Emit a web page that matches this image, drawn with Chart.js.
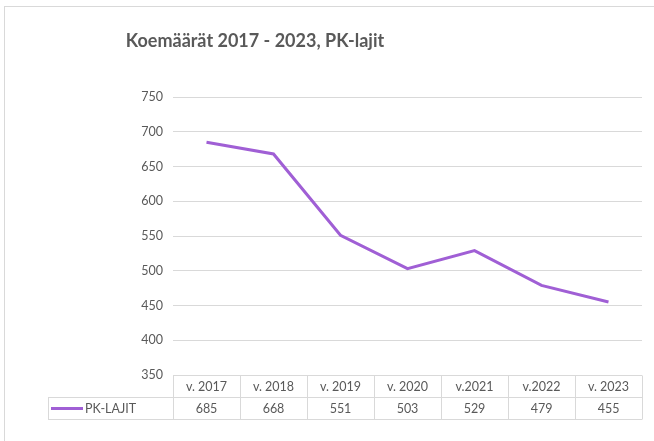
<!DOCTYPE html>
<html lang="fi">
  <head>
    <meta charset="UTF-8" />
    <title>Koemäärät 2017 - 2023, PK-lajit</title>
    <style>
      * {
        margin: 0;
        padding: 0;
        box-sizing: border-box;
      }
      body {
        background: #ffffff;
      }
    </style>
  </head>
  <body>
    <canvas id="myChart" width="654" height="441"></canvas>

    <script src="https://cdn.jsdelivr.net/npm/chart.js"></script>
    <script>
      const categories = ["v. 2017", "v. 2018", "v. 2019", "v. 2020", "v.2021", "v.2022", "v. 2023"];
      const pkLajit = [685, 668, 551, 503, 529, 479, 455];
      const seriesName = "PK-LAJIT";
      const chartTitle = "Koemäärät 2017 - 2023, PK-lajit";
      const yMin = 350;
      const yMax = 750;
      const yStep = 50;

      const lineColor = "#a05fd5";
      const textColor = "#595959";
      const gridColor = "#d9d9d9";
      const font = "Lato, 'Open Sans', sans-serif";

      const ctx = document.getElementById("myChart");

      // frame around the whole chart + the title (excel puts it left of centre)
      const frame = {
        id: "frame",
        beforeDraw(chart) {
          const c = chart.ctx;
          c.save();
          c.fillStyle = "#ffffff";
          c.fillRect(0, 0, chart.width, chart.height);
          c.strokeStyle = gridColor;
          c.lineWidth = 1;
          c.strokeRect(4.5, 6.5, chart.width + 10, chart.height + 10);
          c.fillStyle = textColor;
          c.font = "bold 18px " + font;
          c.textAlign = "center";
          c.textBaseline = "middle";
          c.fillText(chartTitle, 255, 41);
          c.restore();
        },
      };

      // excel style data table under the plot
      const dataTable = {
        id: "dataTable",
        afterDraw(chart) {
          const {
            ctx: c,
            chartArea: { left, right, bottom },
            scales: { x },
          } = chart;
          const rowH = 22;
          const half = (x.getPixelForValue(1) - x.getPixelForValue(0)) / 2;
          const tableLeft = 48;
          const top = Math.round(bottom) + 0.5;
          c.save();
          c.strokeStyle = gridColor;
          c.lineWidth = 1;
          c.beginPath();
          c.moveTo(left, top);
          c.lineTo(right, top);
          c.moveTo(tableLeft, top + rowH);
          c.lineTo(right, top + rowH);
          c.moveTo(tableLeft, top + rowH * 2);
          c.lineTo(right, top + rowH * 2);
          c.moveTo(tableLeft + 0.5, top + rowH);
          c.lineTo(tableLeft + 0.5, top + rowH * 2);
          for (let i = 0; i <= categories.length; i++) {
            const xx = Math.round(x.getPixelForValue(i) - half) + 0.5;
            c.moveTo(xx, top);
            c.lineTo(xx, top + rowH * 2);
          }
          c.stroke();

          c.fillStyle = textColor;
          c.font = "12.5px " + font;
          c.textAlign = "center";
          c.textBaseline = "middle";
          categories.forEach((cat, i) => {
            const cx = x.getPixelForValue(i);
            c.fillText(cat, cx, top + rowH / 2);
            c.fillText(String(pkLajit[i]), cx, top + rowH * 1.5);
          });

          // legend key
          const ky = top + rowH * 1.5;
          c.strokeStyle = lineColor;
          c.lineWidth = 3;
          c.beginPath();
          c.moveTo(tableLeft + 3, ky);
          c.lineTo(tableLeft + 35, ky);
          c.stroke();
          c.textAlign = "left";
          c.fillText(seriesName, tableLeft + 37, ky);
          c.restore();
        },
      };

      const config = {
        type: "line",
        data: {
          labels: categories,
          datasets: [
            {
              label: seriesName,
              data: pkLajit,
              borderColor: lineColor,
              backgroundColor: lineColor,
              borderWidth: 3,
              pointRadius: 0,
              tension: 0,
            },
          ],
        },
        options: {
          responsive: false,
          animation: false,
          layout: {
            padding: { left: 0, right: 12, bottom: 66, top: 97 },
          },
          plugins: {
            legend: { display: false },
            tooltip: { enabled: false },
            title: { display: false },
          },
          scales: {
            x: {
              display: false,
              offset: true,
            },
            y: {
              min: yMin,
              max: yMax,
              border: { display: false },
              grid: { color: gridColor, drawTicks: false },
              ticks: {
                stepSize: yStep,
                padding: 10,
                color: textColor,
                font: { family: font, size: 12.5 },
              },
              afterFit(scale) {
                scale.width = 173;
              },
            },
          },
        },
        plugins: [frame, dataTable],
      };

      const myChart = new Chart(ctx, config);
    </script>
  </body>
</html>
